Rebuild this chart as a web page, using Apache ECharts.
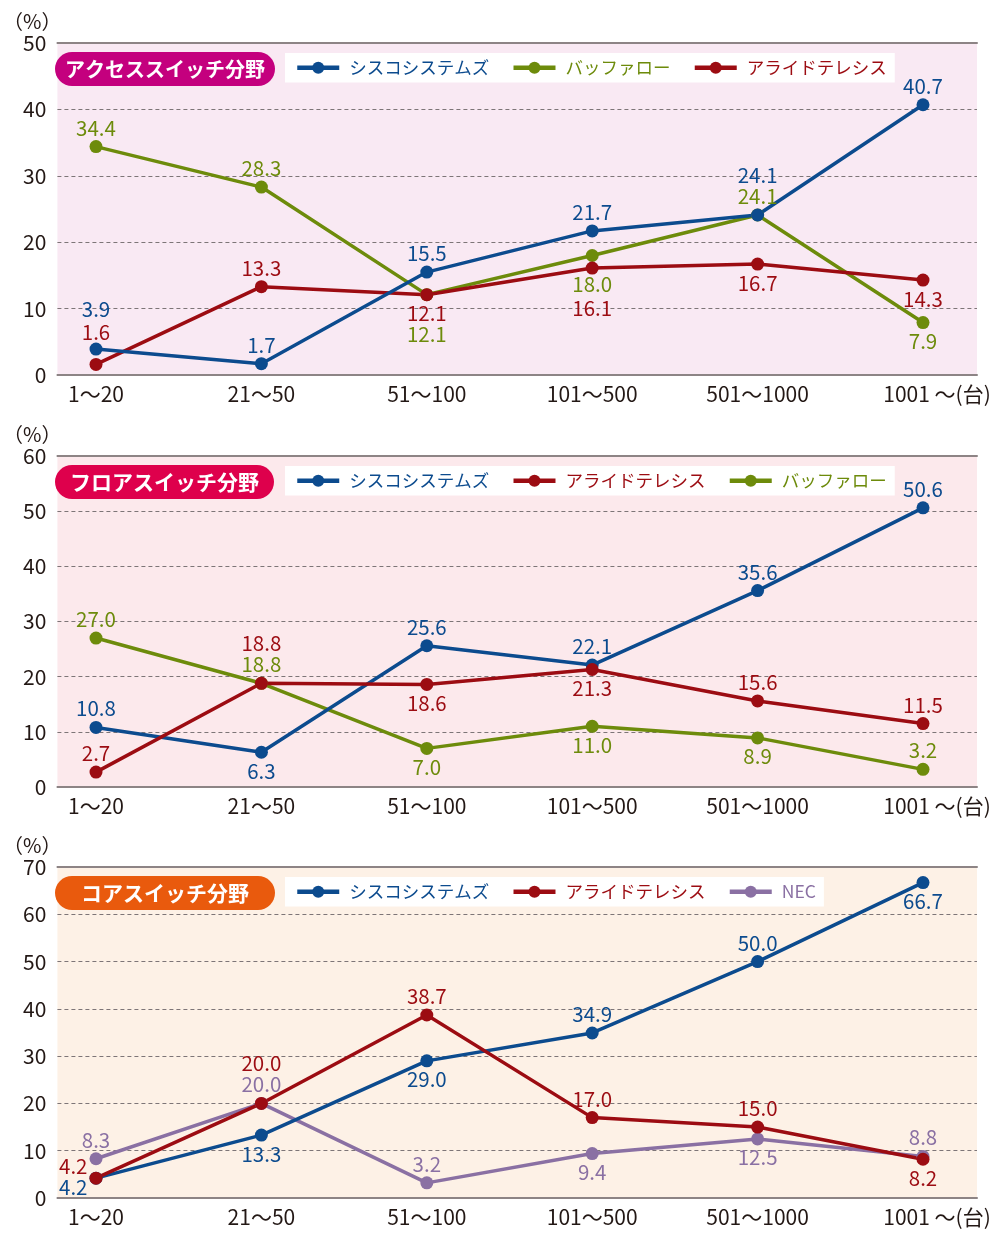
<!DOCTYPE html>
<html>
<head>
<meta charset="utf-8">
<script src="https://cdn.jsdelivr.net/npm/echarts@6/dist/echarts.min.js"></script>
<style>html,body{margin:0;padding:0;background:#fff}#c{width:1000px;height:1238px}</style>
</head>
<body>
<div id="c"></div>
<script>
// ---- data ----
const categories = ['1～20', '21～50', '51～100', '101～500', '501～1000', '1001 ～(台)'];
const yTicksAccess = [0, 10, 20, 30, 40, 50];
const yTicksFloor = [0, 10, 20, 30, 40, 50, 60];
const yTicksCore = [0, 10, 20, 30, 40, 50, 60, 70];

const accessCisco   = [3.9, 1.7, 15.5, 21.7, 24.1, 40.7];
const accessBuffalo = [34.4, 28.3, 12.1, 18.0, 24.1, 7.9];
const accessAllied  = [1.6, 13.3, 12.1, 16.1, 16.7, 14.3];

const floorCisco   = [10.8, 6.3, 25.6, 22.1, 35.6, 50.6];
const floorAllied  = [2.7, 18.8, 18.6, 21.3, 15.6, 11.5];
const floorBuffalo = [27.0, 18.8, 7.0, 11.0, 8.9, 3.2];

const coreCisco  = [4.2, 13.3, 29.0, 34.9, 50.0, 66.7];
const coreAllied = [4.2, 20.0, 38.7, 17.0, 15.0, 8.2];
const coreNEC    = [8.3, 20.0, 3.2, 9.4, 12.5, 8.8];

const NAME_CISCO = 'シスコシステムズ', NAME_BUFFALO = 'バッファロー', NAME_ALLIED = 'アライドテレシス', NAME_NEC = 'NEC';

// ---- styles ----
const FONT = '"Noto Sans CJK JP", "Noto Sans", sans-serif';
const C = { cisco: '#0c4b8e', buffalo: '#6d8b0b', allied: '#9c0c12', nec: '#8a70a3' };
const TXT = '#231815';
// label placement codes: t=top, b=bottom, T=top (stacked higher), B=bottom (stacked lower), lu/ld = left up/down
const L = {
  accessCisco:   ['T', 't', 't', 't', 'T', 't'],
  accessBuffalo: ['t', 't', 'B', 'b10', 't', 'b'],
  accessAllied:  ['t13', 't', 'b', 'B', 'b', 'b'],
  floorCisco:    ['t', 'b', 't', 't', 't', 't'],
  floorAllied:   ['t', 'T', 'b', 'b', 't', 't'],
  floorBuffalo:  ['t', 't', 'b', 'b', 'b', 't'],
  coreCisco:     ['ld', 'b', 'b', 't', 't', 'b'],
  coreAllied:    ['lu', 'T', 't', 't', 't', 'b'],
  coreNEC:       ['t', 't', 't', 'b', 'b', 't']
};
function labelCfg(code) {
  switch (code) {
    case 't': return { position: 'top', offset: [0, 1] };
    case 'T': return { position: 'top', offset: [0, -20] };
    case 't13': return { position: 'top', offset: [0, -12] };
    case 'b': return { position: 'bottom', offset: [0, -1] };
    case 'B': return { position: 'bottom', offset: [0, 20] };
    case 'b10': return { position: 'bottom', offset: [0, 9] };
    case 'lu': return { position: 'left', offset: [1, -12] };
    case 'ld': return { position: 'left', offset: [1, 9] };
  }
  return { position: 'top' };
}

const panels = [
  { top: 43, height: 332, ticks: yTicksAccess, bg: '#f9e9f3', title: 'アクセススイッチ分野', badge: '#c4007e', tfs: 20, tpad: [6, 10],
    series: [
      { name: NAME_BUFFALO, data: accessBuffalo, color: C.buffalo, lab: L.accessBuffalo },
      { name: NAME_ALLIED, data: accessAllied, color: C.allied, lab: L.accessAllied },
      { name: NAME_CISCO, data: accessCisco, color: C.cisco, lab: L.accessCisco }
    ],
    legend: [[NAME_CISCO, C.cisco], [NAME_BUFFALO, C.buffalo], [NAME_ALLIED, C.allied]] },
  { top: 456, height: 331, ticks: yTicksFloor, bg: '#fce9ec', title: 'フロアスイッチ分野', badge: '#de004c', tfs: 21, tpad: [6, 15],
    series: [
      { name: NAME_BUFFALO, data: floorBuffalo, color: C.buffalo, lab: L.floorBuffalo },
      { name: NAME_CISCO, data: floorCisco, color: C.cisco, lab: L.floorCisco },
      { name: NAME_ALLIED, data: floorAllied, color: C.allied, lab: L.floorAllied }
    ],
    legend: [[NAME_CISCO, C.cisco], [NAME_ALLIED, C.allied], [NAME_BUFFALO, C.buffalo]] },
  { top: 867, height: 331, ticks: yTicksCore, bg: '#fdf1e6', title: 'コアスイッチ分野', badge: '#e95a0d', tfs: 21, tpad: [6, 26],
    series: [
      { name: NAME_NEC, data: coreNEC, color: C.nec, lab: L.coreNEC },
      { name: NAME_CISCO, data: coreCisco, color: C.cisco, lab: L.coreCisco },
      { name: NAME_ALLIED, data: coreAllied, color: C.allied, lab: L.coreAllied }
    ],
    legend: [[NAME_CISCO, C.cisco], [NAME_ALLIED, C.allied], [NAME_NEC, C.nec]] }
];

const grids = [], xAxes = [], yAxes = [], series = [], legends = [], titles = [];
panels.forEach((p, k) => {
  const g0 = grids.length;
  const ymax = p.ticks[p.ticks.length - 1];
  grids.push({ left: 45, right: 23, top: p.top, height: p.height, show: true, backgroundColor: p.bg, borderWidth: 0 });
  grids.push({ left: 96, right: 77, top: p.top, height: p.height });
  const edge = { type: 'value', min: 0, max: 1, axisLine: { show: true, onZero: false, lineStyle: { color: '#8d8485', width: 2 } },
    axisTick: { show: false }, axisLabel: { show: false }, splitLine: { show: false } };
  xAxes.push(Object.assign({ gridIndex: g0, position: 'bottom' }, edge));
  xAxes.push(Object.assign({ gridIndex: g0, position: 'top' }, edge));
  const xIdx = xAxes.length;
  xAxes.push({ gridIndex: g0 + 1, type: 'category', boundaryGap: false,
    data: categories.map((c, i) => i === categories.length - 1 ? { value: c, textStyle: { padding: [0, 0, 0, 28] } } : c),
    axisLine: { show: false }, axisTick: { show: false }, splitLine: { show: false },
    axisLabel: { color: TXT, fontSize: 21, fontFamily: FONT, margin: 9, interval: 0 } });
  yAxes.push({ gridIndex: g0, type: 'value', min: 0, max: ymax, interval: 10,
    name: '（%）', nameLocation: 'end', nameGap: 12,
    nameTextStyle: { color: TXT, fontSize: 20, fontFamily: FONT, align: 'right', padding: [0, -4, 0, 0] },
    axisLine: { show: false }, axisTick: { show: false },
    axisLabel: { color: TXT, fontSize: 21, fontFamily: FONT, margin: 11 },
    splitLine: { show: true, lineStyle: { color: '#7d7577', width: 1, type: [4, 3] } } });
  const yIdx = yAxes.length;
  yAxes.push({ gridIndex: g0 + 1, type: 'value', min: 0, max: ymax, interval: 10, show: false, splitLine: { show: false } });
  p.series.forEach(s => {
    series.push({
      type: 'line', name: s.name, xAxisIndex: xIdx, yAxisIndex: yIdx,
      data: s.data.map((v, i) => ({ value: v, label: labelCfg(s.lab[i]) })),
      color: s.color, symbol: 'circle', symbolSize: 13,
      lineStyle: { width: 3.5, color: s.color }, itemStyle: { color: s.color },
      label: { show: true, color: s.color, fontSize: 20.5, fontFamily: FONT, distance: 3,
        formatter: prm => Number(prm.value).toFixed(1) },
      emphasis: { disabled: true }, animation: false
    });
  });
  legends.push({ left: 285, top: p.top + 10, orient: 'horizontal', backgroundColor: '#fff',
    padding: [6, 8, 6, 10], itemGap: 22, itemWidth: 42, itemHeight: 15,
    lineStyle: { width: 4.5 },
    textStyle: { fontSize: 17.5, fontFamily: FONT, padding: [0, 0, 0, 5] },
    selectedMode: false,
    data: p.legend.map(([n, c]) => ({ name: n, textStyle: { color: c } })) });
  titles.push({ text: p.title, left: 55, top: p.top + 9, backgroundColor: p.badge, borderRadius: 17,
    padding: p.tpad, textStyle: { color: '#fff', fontSize: p.tfs, fontWeight: 'bold', fontFamily: FONT, lineHeight: 22 } });
});

const chart = echarts.init(document.getElementById('c'), null, { renderer: 'canvas' });
chart.setOption({
  animation: false,
  backgroundColor: '#fff',
  title: titles, legend: legends, grid: grids, xAxis: xAxes, yAxis: yAxes, series: series
});
</script>
</body>
</html>
